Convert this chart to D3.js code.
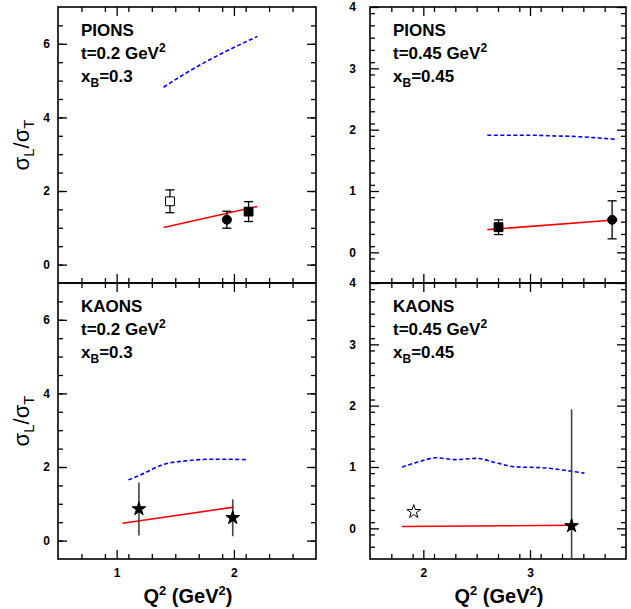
<!DOCTYPE html>
<meta charset="utf-8">
<style>
  body { margin: 0; background: #fff; }
  text { font-family: "Liberation Sans", Arial, Helvetica, sans-serif; font-weight: bold; fill: #000; }
</style>
<body>
<div id="chart"></div>
<script src="https://d3js.org/d3.v7.min.js"></script>
<script>
// ---- values ----
var yMajorLeft = [0, 2, 4, 6];
var yMajorRight = [0, 1, 2, 3, 4];
var xMajorLeft = [1, 2];
var xMajorRight = [2, 3];

// pions, t=0.2 GeV2, xB=0.3
var pi1Q2 = [1.455, 1.94, 2.125];
var pi1Ratio = [1.72, 1.22, 1.44];
var pi1Err = [0.31, 0.23, 0.27];
var pi1Marker = ["openSquare", "circle", "square"];
var pi1BlueQ2 = [1.4, 1.6, 1.8, 2.0, 2.2];
var pi1Blue = [4.82, 5.22, 5.58, 5.9, 6.2];
var pi1RedQ2 = [1.4, 2.2];
var pi1Red = [1.01, 1.58];

// pions, t=0.45 GeV2, xB=0.45
var pi2Q2 = [2.705, 3.77];
var pi2Ratio = [0.41, 0.53];
var pi2Err = [0.12, 0.31];
var pi2Marker = ["square", "circle"];
var pi2BlueQ2 = [2.6, 2.8, 3.0, 3.2, 3.4, 3.6, 3.82];
var pi2Blue = [1.91, 1.91, 1.91, 1.9, 1.89, 1.87, 1.84];
var pi2RedQ2 = [2.6, 3.82];
var pi2Red = [0.37, 0.53];

// kaons, t=0.2 GeV2, xB=0.3
var ka1Q2 = [1.19, 1.99];
var ka1Ratio = [0.86, 0.62];
var ka1Err = [0.72, 0.5];
var ka1Marker = ["star", "star"];
var ka1BlueQ2 = [1.1, 1.2, 1.4, 1.6, 1.8, 1.95, 2.1];
var ka1Blue = [1.65, 1.78, 2.07, 2.17, 2.21, 2.21, 2.2];
var ka1RedQ2 = [1.05, 2.0];
var ka1Red = [0.47, 0.91];

// kaons, t=0.45 GeV2, xB=0.45
var ka2Q2 = [1.91, 3.39];
var ka2Ratio = [0.27, 0.04];
var ka2Err = [0, 1.9];
var ka2Marker = ["openStar", "star"];
var ka2BlueQ2 = [1.8, 1.95, 2.12, 2.3, 2.5, 2.7, 2.87, 3.1, 3.39, 3.51];
var ka2Blue = [1.0, 1.08, 1.15, 1.12, 1.14, 1.06, 1.0, 0.99, 0.93, 0.9];
var ka2RedQ2 = [1.8, 3.39];
var ka2Red = [0.03, 0.05];

var svg = d3.select("#chart").append("svg")
  .attr("width", 631)
  .attr("height", 609);

var defs = svg.append("defs");

function zip(a, b) {
  return a.map(function(v, i) { return [v, b[i]]; });
}

function drawPanel(p) {
  var x = d3.scaleLinear().domain(p.xDomain).range([p.left, p.left + p.width]);
  var y = d3.scaleLinear().domain(p.yDomain).range([p.top + p.height, p.top]);

  var clipId = "clip" + p.id;
  defs.append("clipPath").attr("id", clipId)
    .append("rect")
    .attr("x", p.left).attr("y", p.top)
    .attr("width", p.width).attr("height", p.height);

  var g = svg.append("g");

  // minor ticks on all four sides
  var xMinor = d3.range(p.xDomain[0], p.xDomain[1] + 1e-9, 0.2).map(function(v) { return +v.toFixed(2); })
    .filter(function(v) { return v > p.xDomain[0] + 1e-6 && v < p.xDomain[1] - 1e-6; });
  var yMinor = d3.range(p.yDomain[0], p.yDomain[1] + 1e-9, p.yMinorStep).map(function(v) { return +v.toFixed(2); })
    .filter(function(v) { return v > p.yDomain[0] + 1e-6 && v < p.yDomain[1] - 1e-6; });

  var axes = [
    { ax: d3.axisBottom(x), tr: "translate(0," + (p.top + p.height) + ")", minor: xMinor, major: p.xMajor, labels: p.xLabels, pad: 9 },
    { ax: d3.axisTop(x), tr: "translate(0," + p.top + ")", minor: xMinor, major: p.xMajor, labels: false, pad: 9 },
    { ax: d3.axisLeft(y), tr: "translate(" + p.left + ",0)", minor: yMinor, major: p.yMajor, labels: true, pad: p.yPad },
    { ax: d3.axisRight(y), tr: "translate(" + (p.left + p.width) + ",0)", minor: yMinor, major: p.yMajor, labels: false, pad: 9 }
  ];

  axes.forEach(function(a) {
    var minorG = g.append("g").attr("transform", a.tr)
      .call(a.ax.tickValues(a.minor).tickSize(-5).tickFormat(""));
    minorG.select(".domain").remove();
    minorG.selectAll("line").attr("stroke-width", 1.3);

    var majorG = g.append("g").attr("transform", a.tr)
      .call(a.ax.tickValues(a.major).tickSize(-9).tickPadding(a.pad)
        .tickFormat(a.labels ? d3.format("d") : ""));
    majorG.select(".domain").remove();
    majorG.selectAll("line").attr("stroke-width", 1.3);
    majorG.selectAll("text")
      .style("font-size", "12px")
      .style("font-family", "\"Liberation Sans\", Arial, sans-serif")
      .style("font-weight", "bold");
  });

  // frame
  g.append("rect")
    .attr("x", p.left).attr("y", p.top)
    .attr("width", p.width).attr("height", p.height)
    .attr("fill", "none").attr("stroke", "#000").attr("stroke-width", 1.6);

  var plot = g.append("g").attr("clip-path", "url(#" + clipId + ")");

  var line = d3.line()
    .x(function(d) { return x(d[0]); })
    .y(function(d) { return y(d[1]); });

  // blue dashed curve
  plot.append("path")
    .datum(zip(p.blueQ2, p.blue))
    .attr("d", line.curve(d3.curveMonotoneX))
    .attr("fill", "none")
    .attr("stroke", "#0000ff")
    .attr("stroke-width", 1.6)
    .attr("stroke-dasharray", "4,2.5");

  // red line
  plot.append("path")
    .datum(zip(p.redQ2, p.red))
    .attr("d", line.curve(d3.curveLinear))
    .attr("fill", "none")
    .attr("stroke", "#ff0000")
    .attr("stroke-width", 1.6);

  // points with error bars
  var pts = p.q2.map(function(q, i) {
    return { q: q, v: p.ratio[i], e: p.err[i], m: p.marker[i] };
  });

  pts.forEach(function(d) {
    var isStar = d.m === "star" || d.m === "openStar";
    if (d.e > 0) {
      var col = isStar ? "#444" : "#000";
      plot.append("line")
        .attr("x1", x(d.q)).attr("x2", x(d.q))
        .attr("y1", y(d.v + d.e)).attr("y2", y(d.v - d.e))
        .attr("stroke", col).attr("stroke-width", isStar ? 1.6 : 1.3);
      if (!isStar) {
        [d.v + d.e, d.v - d.e].forEach(function(v) {
          plot.append("line")
            .attr("x1", x(d.q) - 4.5).attr("x2", x(d.q) + 4.5)
            .attr("y1", y(v)).attr("y2", y(v))
            .attr("stroke", "#000").attr("stroke-width", 1.3);
        });
      }
    }
    var sym;
    if (d.m === "circle") sym = d3.symbol(d3.symbolCircle, 64);
    else if (d.m === "square" || d.m === "openSquare") sym = d3.symbol(d3.symbolSquare, 78);
    else sym = d3.symbol(d3.symbolStar, 58);
    var open = d.m === "openSquare" || d.m === "openStar";
    plot.append("path")
      .attr("d", sym())
      .attr("transform", "translate(" + x(d.q) + "," + y(d.v) + ")")
      .attr("fill", open ? "#fff" : "#000")
      .attr("stroke", "#000")
      .attr("stroke-width", 1);
  });

  // panel label
  var tx = p.left + 23;
  g.append("text").attr("x", tx).attr("y", p.top + 29).style("font-size", "17px").text(p.particle);
  var t2 = g.append("text").attr("x", tx).attr("y", p.top + 52).style("font-size", "17px");
  t2.append("tspan").text(p.tLabel);
  t2.append("tspan").attr("dy", -7).style("font-size", "12px").text("2");
  var t3 = g.append("text").attr("x", tx).attr("y", p.top + 75).style("font-size", "17px");
  t3.append("tspan").text("x");
  t3.append("tspan").attr("dy", 5).style("font-size", "12px").text("B");
  t3.append("tspan").attr("dy", -5).text(p.xbLabel);
}

var L = { left: 58, width: 258, xDomain: [0.5, 2.7], xMajor: xMajorLeft,
          yDomain: [-0.5, 7], yMajor: yMajorLeft, yMinorStep: 0.5, yPad: 8 };
var R = { left: 370, width: 256, xDomain: [1.5, 3.9], xMajor: xMajorRight,
          yDomain: [-0.5, 4], yMajor: yMajorRight, yMinorStep: 0.2, yPad: 14 };

function panel(col, top, extra) {
  return Object.assign({}, col, { top: top, height: 276 }, extra);
}

drawPanel(panel(L, 7, { id: 1, xLabels: false, particle: "PIONS", tLabel: "t=0.2 GeV", xbLabel: "=0.3",
  q2: pi1Q2, ratio: pi1Ratio, err: pi1Err, marker: pi1Marker,
  blueQ2: pi1BlueQ2, blue: pi1Blue, redQ2: pi1RedQ2, red: pi1Red }));
drawPanel(panel(R, 7, { id: 2, xLabels: false, particle: "PIONS", tLabel: "t=0.45 GeV", xbLabel: "=0.45",
  q2: pi2Q2, ratio: pi2Ratio, err: pi2Err, marker: pi2Marker,
  blueQ2: pi2BlueQ2, blue: pi2Blue, redQ2: pi2RedQ2, red: pi2Red }));
drawPanel(panel(L, 283, { id: 3, xLabels: true, particle: "KAONS", tLabel: "t=0.2 GeV", xbLabel: "=0.3",
  q2: ka1Q2, ratio: ka1Ratio, err: ka1Err, marker: ka1Marker,
  blueQ2: ka1BlueQ2, blue: ka1Blue, redQ2: ka1RedQ2, red: ka1Red }));
drawPanel(panel(R, 283, { id: 4, xLabels: true, particle: "KAONS", tLabel: "t=0.45 GeV", xbLabel: "=0.45",
  q2: ka2Q2, ratio: ka2Ratio, err: ka2Err, marker: ka2Marker,
  blueQ2: ka2BlueQ2, blue: ka2Blue, redQ2: ka2RedQ2, red: ka2Red }));

// y titles
[145, 421].forEach(function(cy) {
  var t = svg.append("text")
    .attr("transform", "translate(29," + cy + ") rotate(-90)")
    .attr("text-anchor", "middle")
    .style("font-size", "22px")
    .style("font-weight", "normal");
  t.append("tspan").text("\u03c3");
  t.append("tspan").attr("dy", 5).style("font-size", "15px").text("L");
  t.append("tspan").attr("dy", -5).text("/\u03c3");
  t.append("tspan").attr("dy", 5).style("font-size", "15px").text("T");
});

// x titles
[188, 499].forEach(function(cx) {
  var t = svg.append("text")
    .attr("x", cx).attr("y", 603)
    .attr("text-anchor", "middle")
    .style("font-size", "20px");
  t.append("tspan").text("Q");
  t.append("tspan").attr("dy", -8).style("font-size", "13px").text("2");
  t.append("tspan").attr("dy", 8).text(" (GeV");
  t.append("tspan").attr("dy", -8).style("font-size", "13px").text("2");
  t.append("tspan").attr("dy", 8).text(")");
});
</script>
